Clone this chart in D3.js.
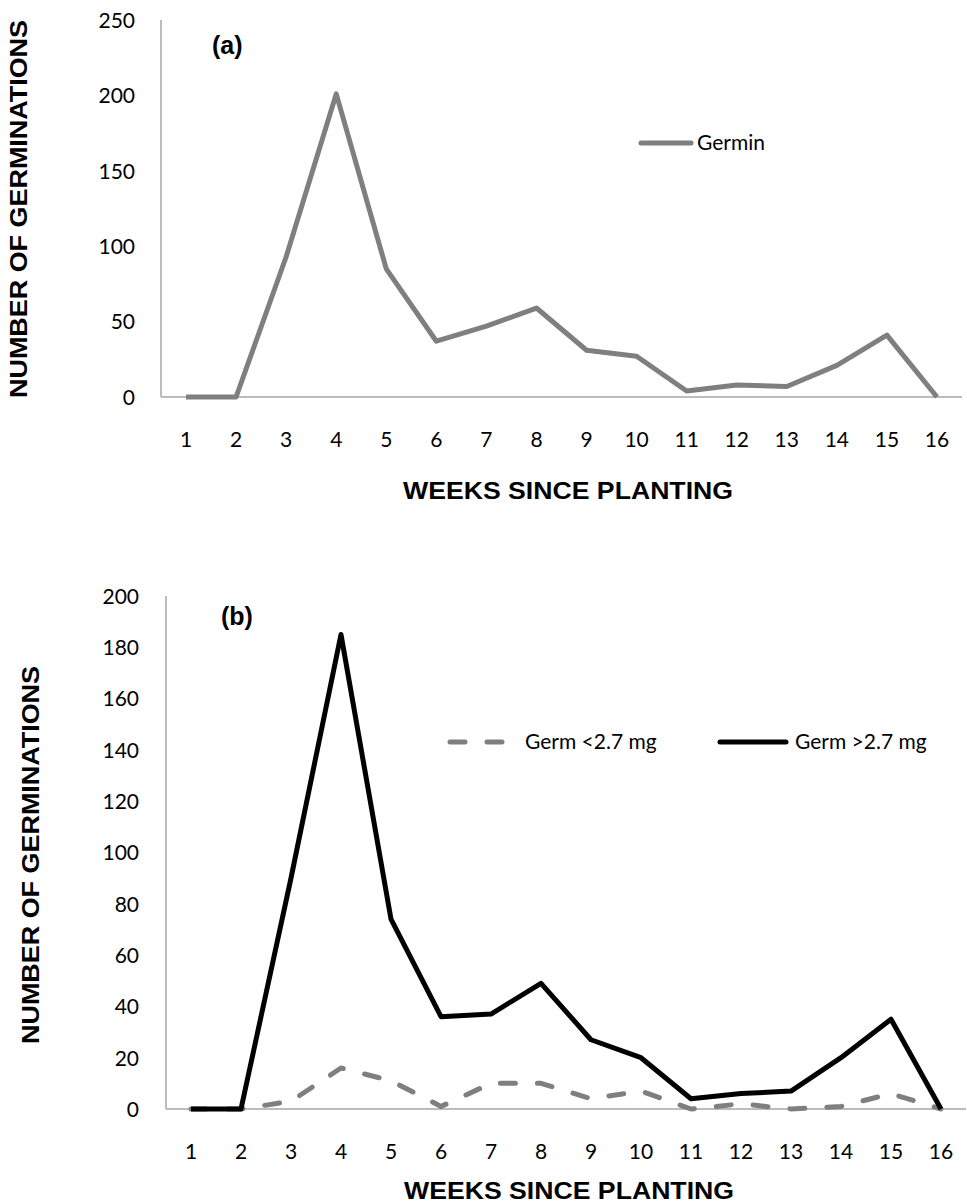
<!DOCTYPE html>
<html><head><meta charset="utf-8">
<script src="https://cdn.jsdelivr.net/npm/d3@7"></script>
<style>body{margin:0;background:#fff}svg{display:block}</style>
</head><body>
<script>
const weeks = ["1","2","3","4","5","6","7","8","9","10","11","12","13","14","15","16"];
const germin = [0,0,93,201,85,37,47,59,31,27,4,8,7,21,41,0];
const germSmall = [0,0,3,16,11,1,10,10,4,7,0,2,0,1,6,0];
const germLarge = [0,0,90,185,74,36,37,49,27,20,4,6,7,20,35,0];
const ticksA = [0,50,100,150,200,250];
const ticksB = [0,20,40,60,80,100,120,140,160,180,200];

const W = 967, H = 1204;
const svg = d3.select("body").append("svg").attr("width", W).attr("height", H);
const tickFont = "Lato, 'Open Sans', sans-serif";
const boldFont = "'Liberation Sans', Arial, sans-serif";

function panel(cfg) {
  const x = d3.scaleBand().domain(weeks).range([cfg.left, cfg.right]);
  const y = d3.scaleLinear().domain([0, cfg.max]).range([cfg.bottom, cfg.top]);
  const g = svg.append("g");
  g.append("line").attr("x1", cfg.left).attr("x2", cfg.left).attr("y1", cfg.top).attr("y2", cfg.bottom)
    .attr("stroke", "#a6a6a6").attr("stroke-width", 1.5);
  g.append("line").attr("x1", cfg.left).attr("x2", cfg.right).attr("y1", cfg.bottom).attr("y2", cfg.bottom)
    .attr("stroke", "#a6a6a6").attr("stroke-width", 1.5);
  const ya = d3.axisLeft(y).tickValues(cfg.ticks).tickSize(0).tickPadding(0);
  const yg = g.append("g").attr("transform", `translate(${cfg.yLabelX},0)`).call(ya);
  yg.select(".domain").remove();
  yg.selectAll("text").attr("font-family", tickFont).attr("font-size", 21).attr("fill", "#000").attr("dy", "0.35em");
  const xa = d3.axisBottom(x).tickSize(0).tickPadding(0);
  const xg = g.append("g").attr("transform", `translate(0,${cfg.xLabelY})`).call(xa);
  xg.select(".domain").remove();
  xg.selectAll("text").attr("font-family", tickFont).attr("font-size", 21).attr("fill", "#000").attr("dy", "0.35em");
  g.append("text").attr("x", cfg.xTitleX).attr("y", cfg.xTitleY).attr("text-anchor", "middle")
    .attr("font-family", boldFont).attr("font-weight", "bold").attr("font-size", 23)
    .attr("textLength", 330).attr("lengthAdjust", "spacingAndGlyphs")
    .text("WEEKS SINCE PLANTING");
  g.append("text").attr("transform", `translate(${cfg.yTitleX},${cfg.yTitleY}) rotate(-90)`)
    .attr("text-anchor", "middle").attr("dy", "0.35em")
    .attr("font-family", boldFont).attr("font-weight", "bold").attr("font-size", 23)
    .attr("textLength", 378).attr("lengthAdjust", "spacingAndGlyphs")
    .text("NUMBER OF GERMINATIONS");
  g.append("text").attr("x", cfg.tagX).attr("y", cfg.tagY).attr("dy", "0.35em")
    .attr("font-family", boldFont).attr("font-weight", "bold").attr("font-size", 25).text(cfg.tag);
  return {x, y, g};
}

function drawLine(p, data, color, width, dash) {
  const line = d3.line().x((d, i) => p.x(weeks[i]) + p.x.bandwidth() / 2).y(d => p.y(d));
  const path = p.g.append("path").datum(data).attr("d", line).attr("fill", "none")
    .attr("stroke", color).attr("stroke-width", width).attr("stroke-linejoin", "round");
  if (dash) path.attr("stroke-dasharray", dash).attr("stroke-linecap", "round");
  return path;
}

// Panel (a)
const pa = panel({left:161, right:962, top:20, bottom:397, max:250, ticks:ticksA,
  yLabelX:135, xLabelY:440, xTitleX:568, xTitleY:499, yTitleX:19, yTitleY:209,
  tag:"(a)", tagX:212, tagY:45});
drawLine(pa, germin, "#7f7f7f", 5);
pa.g.append("line").attr("x1", 641).attr("x2", 691).attr("y1", 143).attr("y2", 143)
  .attr("stroke", "#7f7f7f").attr("stroke-width", 5).attr("stroke-linecap", "round");
pa.g.append("text").attr("x", 697).attr("y", 143).attr("dy", "0.35em")
  .attr("font-family", tickFont).attr("font-size", 21).text("Germin");

// Panel (b)
const pb = panel({left:166, right:966, top:596, bottom:1109, max:200, ticks:ticksB,
  yLabelX:139, xLabelY:1152, xTitleX:569, xTitleY:1199, yTitleX:31, yTitleY:855,
  tag:"(b)", tagX:221, tagY:616});
drawLine(pb, germSmall, "#7f7f7f", 5, "15,22");
drawLine(pb, germLarge, "#000", 5);
pb.g.append("line").attr("x1", 450).attr("x2", 502).attr("y1", 742).attr("y2", 742)
  .attr("stroke", "#7f7f7f").attr("stroke-width", 5).attr("stroke-linecap", "round").attr("stroke-dasharray", "15,22");
pb.g.append("text").attr("x", 525).attr("y", 742).attr("dy", "0.35em")
  .attr("font-family", tickFont).attr("font-size", 21).text("Germ <2.7 mg");
pb.g.append("line").attr("x1", 720).attr("x2", 786).attr("y1", 742).attr("y2", 742)
  .attr("stroke", "#000").attr("stroke-width", 5).attr("stroke-linecap", "round");
pb.g.append("text").attr("x", 795).attr("y", 742).attr("dy", "0.35em")
  .attr("font-family", tickFont).attr("font-size", 21).text("Germ >2.7 mg");
</script>
</body></html>
